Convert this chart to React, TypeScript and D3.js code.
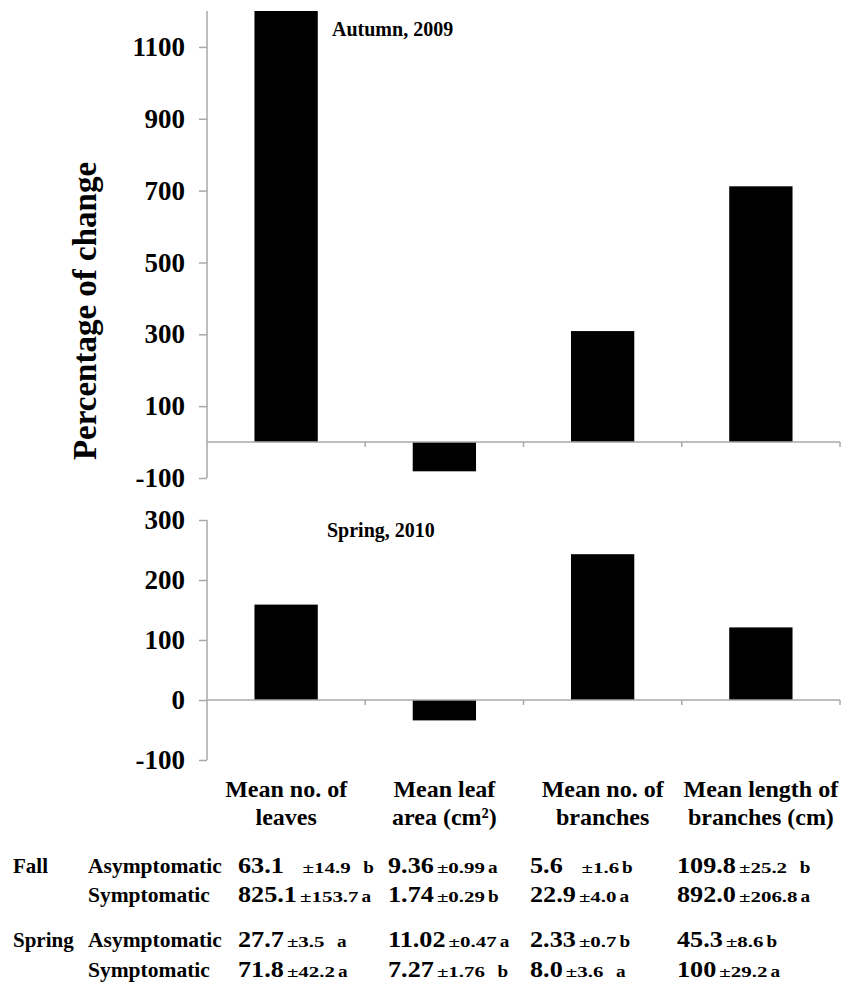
import React, { useEffect, useRef } from 'react'
import * as d3 from 'd3'

// categories (two lines each)
const categoryLines = [
  ['Mean no. of', 'leaves'],
  ['Mean leaf', 'area (cm²)'],
  ['Mean no. of', 'branches'],
  ['Mean length of', 'branches (cm)'],
]

// percentage of change
const autumnChange = [1207, -81.4, 309, 712]
const springChange = [159, -34, 243, 121]

const autumnTicks = [-100, 100, 300, 500, 700, 900, 1100]
const springTicks = [-100, 0, 100, 200, 300]

// table: [value, ± sd, letter]
const fallAsym = [['63.1', '   ±14.9', '  b'], ['9.36', '±0.99', 'a'], ['5.6', '   ±1.6', 'b'], ['109.8', '±25.2', '  b']]
const fallSym = [['825.1', '±153.7', 'a'], ['1.74', '±0.29', 'b'], ['22.9', '±4.0', 'a'], ['892.0', '±206.8', 'a']]
const springAsym = [['27.7', '±3.5', '  a'], ['11.02', '±0.47', 'a'], ['2.33', '±0.7', 'b'], ['45.3', '±8.6', 'b']]
const springSym = [['71.8', '±42.2', 'a'], ['7.27', '±1.76', '  b'], ['8.0', '±3.6', '  a'], ['100', '±29.2', 'a']]

const seasonLabels = ['Fall', 'Spring']
const groupLabels = ['Asymptomatic', 'Symptomatic']

const FONT = '"Liberation Serif", "Times New Roman", serif'
const AXIS = '#a9a9a9'

const App = () => {
  const svgRef = useRef(null)

  useEffect(() => {
    const svg = d3.select(svgRef.current)
    svg.selectAll('*').remove()

    const left = 207
    const right = 840

    const x = d3
      .scaleBand()
      .domain(categoryLines.map((d, i) => String(i)))
      .range([left, right])
      .paddingInner(0.6)
      .paddingOuter(0.3)

    const drawPanel = (values, ticks, domain, range, title, titlePos) => {
      const y = d3.scaleLinear().domain(domain).range(range)
      const g = svg.append('g')

      // bars (clip to plot top)
      g.selectAll('.bar')
        .data(values)
        .enter()
        .append('rect')
        .attr('x', (d, i) => x(String(i)))
        .attr('width', x.bandwidth())
        .attr('y', (d) => y(Math.min(domain[1], Math.max(0, d))))
        .attr('height', (d) => Math.abs(y(Math.min(domain[1], d)) - y(0)))
        .style('fill', '#000')

      // y axis
      const yAxis = g
        .append('g')
        .attr('transform', `translate(${left},0)`)
        .call(
          d3
            .axisLeft(y)
            .tickValues(ticks)
            .tickFormat((d) => String(d))
            .tickSize(8)
            .tickSizeOuter(0)
            .tickPadding(14)
        )
      yAxis.select('.domain').attr('stroke', AXIS).attr('stroke-width', 1.5).attr('d', `M0,${y(domain[1])}V${range[0]}`)
      yAxis.selectAll('.tick line').attr('stroke', AXIS).attr('stroke-width', 1.5)
      yAxis
        .selectAll('.tick text')
        .style('font-family', FONT)
        .style('font-size', '27px')
        .style('font-weight', 'bold')
        .attr('fill', '#000')

      // x axis at zero
      const xAxis = g.append('g').attr('transform', `translate(0,${y(0)})`)
      xAxis
        .append('line')
        .attr('x1', left)
        .attr('x2', right)
        .attr('stroke', AXIS)
        .attr('stroke-width', 1.5)
      const bounds = categoryLines.map((d, i) => x(String(i)) - x.step() * 0.3 + x.step())
      xAxis
        .selectAll('.xt')
        .data(bounds)
        .enter()
        .append('line')
        .attr('x1', (d) => d)
        .attr('x2', (d) => d)
        .attr('y1', 0)
        .attr('y2', 5)
        .attr('stroke', AXIS)
        .attr('stroke-width', 1.5)

      g.append('text')
        .text(title)
        .attr('x', titlePos[0])
        .attr('y', titlePos[1])
        .style('font-family', FONT)
        .style('font-size', '20px')
        .style('font-weight', 'bold')
    }

    drawPanel(autumnChange, autumnTicks, [-100, 1200], [478, 11], 'Autumn, 2009', [332, 36])
    drawPanel(springChange, springTicks, [-100, 300], [760, 520], 'Spring, 2010', [327, 537])

    // y axis title
    svg
      .append('text')
      .text('Percentage of change')
      .attr('transform', 'translate(96,311) rotate(-90)')
      .attr('text-anchor', 'middle')
      .style('font-family', FONT)
      .style('font-size', '33px')
      .style('font-weight', 'bold')

    // category labels
    categoryLines.forEach((lines, i) => {
      const cx = x(String(i)) + x.bandwidth() / 2
      lines.forEach((line, j) => {
        svg
          .append('text')
          .text(line)
          .attr('x', cx)
          .attr('y', 797 + j * 28)
          .attr('text-anchor', 'middle')
          .style('font-family', FONT)
          .style('font-size', '24px')
          .style('font-weight', 'bold')
      })
    })

    // table
    const colX = [238, 388, 530, 677]
    const rows = [fallAsym, fallSym, springAsym, springSym]
    const rowY = [873, 902, 947, 977]

    seasonLabels.forEach((s, i) => {
      svg
        .append('text')
        .text(s)
        .attr('x', 13)
        .attr('y', rowY[i * 2])
        .style('font-family', FONT)
        .style('font-size', '21px')
        .style('font-weight', 'bold')
    })
    rows.forEach((row, r) => {
      svg
        .append('text')
        .text(groupLabels[r % 2])
        .attr('x', 88)
        .attr('y', rowY[r])
        .style('font-family', FONT)
        .style('font-size', '21.5px')
        .style('font-weight', 'bold')
    })

    const stretched = (str, px, py, size, sx) => {
      const t = svg
        .append('text')
        .text(str)
        .attr('transform', `translate(${px},${py}) scale(${sx},1)`)
        .style('font-family', FONT)
        .style('font-size', `${size}px`)
        .style('font-weight', 'bold')
        .style('white-space', 'pre')
      return t.node().getComputedTextLength() * sx
    }

    rows.forEach((row, r) => {
      row.forEach((cell, c) => {
        let cx = colX[c]
        cx += stretched(cell[0], cx, rowY[r], 23, 1.14) + 3
        cx += stretched(cell[1], cx, rowY[r], 15.5, 1.35) + 3
        stretched(cell[2], cx, rowY[r], 16, 1.2)
      })
    })
  }, [])

  return (
    <svg ref={svgRef} width={843} height={997} style={{ display: 'block', position: 'absolute', left: 0, top: 0, background: '#fff' }}></svg>
  )
}

export default App
